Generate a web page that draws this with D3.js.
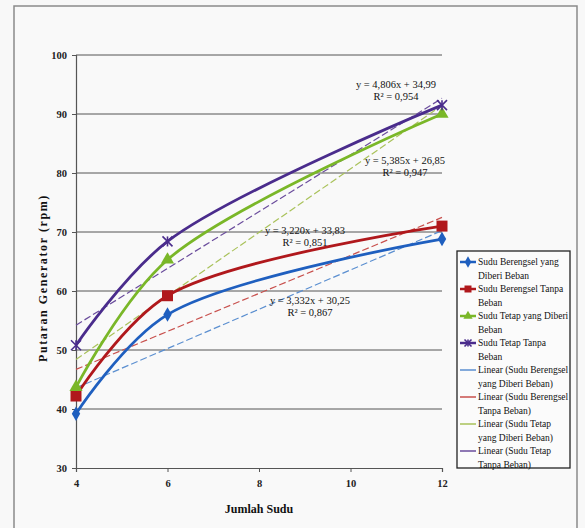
<!DOCTYPE html>
<html><head><meta charset="utf-8">
<script src="https://cdn.jsdelivr.net/npm/d3@7"></script>
<style>
html,body{margin:0;padding:0;background:#f8f8f8;}
svg text{font-family:"Liberation Serif","Times New Roman",serif;}
</style></head>
<body>
<svg id="c" width="585" height="528"></svg>
<script>
// ---- data ----
const xValues = [4, 6, 12];
const xTicks = [4, 6, 8, 10, 12];
const yTicks = [30, 40, 50, 60, 70, 80, 90, 100];
const seriesNames = ["Sudu Berengsel yang Diberi Beban", "Sudu Berengsel Tanpa Beban", "Sudu Tetap yang Diberi Beban", "Sudu Tetap Tanpa Beban"];
const berengselBeban = [39.2, 56.0, 68.8];
const berengselTanpa = [42.2, 59.2, 71.0];
const tetapBeban = [43.7, 65.3, 90.0];
const tetapTanpa = [50.8, 68.4, 91.5];
const trendSlopes = [3.332, 3.220, 5.385, 4.806];
const trendIntercepts = [30.25, 33.83, 26.85, 34.99];
const eqLabels = ["y = 3,332x + 30,25", "y = 3,220x + 33,83", "y = 5,385x + 26,85", "y = 4,806x + 34,99"];
const r2Labels = ["R² = 0,867", "R² = 0,851", "R² = 0,947", "R² = 0,954"];
const legendLines = [
  ["Sudu Berengsel yang", "Diberi Beban"],
  ["Sudu Berengsel Tanpa", "Beban"],
  ["Sudu Tetap yang Diberi", "Beban"],
  ["Sudu Tetap Tanpa", "Beban"],
  ["Linear (Sudu Berengsel", "yang Diberi Beban)"],
  ["Linear (Sudu Berengsel", "Tanpa Beban)"],
  ["Linear (Sudu Tetap", "yang Diberi Beban)"],
  ["Linear (Sudu Tetap", "Tanpa Beban)"]
];

// ---- styles ----
const colors = ["#1f5fbf", "#b0181c", "#7ab728", "#4a2c8c"];
const trendColors = ["#5b8fd0", "#c8504d", "#a9c25a", "#6a4c9c"];
const markers = [d3.symbolDiamond, d3.symbolSquare, d3.symbolTriangle, "star"];
const markerSizes = [9, 11, 10, 10];
const eqPos = [[310, 300], [305, 230], [405, 160], [396, 84]];

const svg = d3.select("#c");
svg.append("rect").attr("x", 14).attr("y", 6).attr("width", 563).attr("height", 530)
  .attr("fill", "#f9f9f9").attr("stroke", "#8a8a8a").attr("stroke-width", 1.5);

const x = d3.scaleLinear().domain([4, 12]).range([76, 442]);
const y = d3.scaleLinear().domain([30, 100]).range([468, 55]);

// gridlines
svg.append("g").selectAll("line").data(yTicks.filter(v => v > 30)).join("line")
  .attr("x1", x(4)).attr("x2", x(12)).attr("y1", d => y(d)).attr("y2", d => y(d))
  .attr("stroke", "#555").attr("stroke-width", 1);

// axes
const yAxis = svg.append("g").attr("transform", `translate(${x(4)},0)`)
  .call(d3.axisLeft(y).tickValues(yTicks).tickSize(4).tickPadding(5).tickFormat(d3.format("d")));
const xAxis = svg.append("g").attr("transform", `translate(0,${y(30)})`)
  .call(d3.axisBottom(x).tickValues(xTicks).tickSize(4).tickPadding(8).tickFormat(d3.format("d")));
[yAxis, xAxis].forEach(a => {
  a.select(".domain").attr("stroke", "#555").attr("stroke-width", 1.2);
  a.selectAll(".tick line").attr("stroke", "#555");
  a.selectAll("text").attr("font-size", 10.5).attr("font-weight", "bold").attr("fill", "#222")
    .attr("font-family", "Liberation Serif");
});

// trendlines
trendSlopes.forEach((m, i) => {
  svg.append("line")
    .attr("x1", x(4)).attr("y1", y(m * 4 + trendIntercepts[i]))
    .attr("x2", x(12)).attr("y2", y(m * 12 + trendIntercepts[i]))
    .attr("stroke", trendColors[i]).attr("stroke-width", 1.2).attr("stroke-dasharray", "7,3");
});

// series
const allSeries = [berengselBeban, berengselTanpa, tetapBeban, tetapTanpa];
const line = d3.line().x(d => x(d[0])).y(d => y(d[1])).curve(d3.curveCatmullRom.alpha(0.5));
function drawMarker(g, type, color, cx, cy, s) {
  if (type === "star") {
    const r = s / 2;
    const p = g.append("g").attr("transform", `translate(${cx},${cy})`).attr("stroke", color).attr("stroke-width", 1.6);
    p.append("line").attr("x1", -r).attr("y1", -r).attr("x2", r).attr("y2", r);
    p.append("line").attr("x1", -r).attr("y1", r).attr("x2", r).attr("y2", -r);
    p.append("line").attr("x1", 0).attr("y1", -r).attr("x2", 0).attr("y2", r);
  } else {
    const size = type === d3.symbolSquare ? s * s : s * s * 0.75;
    g.append("path").attr("d", d3.symbol().type(type).size(size)())
      .attr("transform", `translate(${cx},${cy})`).attr("fill", color);
  }
}
allSeries.forEach((vals, i) => {
  const pts = xValues.map((xv, k) => [xv, vals[k]]);
  svg.append("path").attr("d", line(pts)).attr("fill", "none")
    .attr("stroke", colors[i]).attr("stroke-width", 2.8);
  const g = svg.append("g");
  pts.forEach(p => drawMarker(g, markers[i], colors[i], x(p[0]), y(p[1]), markerSizes[i]));
});

// equation labels
eqLabels.forEach((t, i) => {
  const g = svg.append("g").attr("font-size", 10.5).attr("fill", "#111").attr("text-anchor", "middle");
  g.append("text").attr("x", eqPos[i][0]).attr("y", eqPos[i][1] + 4).text(t);
  g.append("text").attr("x", eqPos[i][0]).attr("y", eqPos[i][1] + 16).text(r2Labels[i]);
});

// axis titles
svg.append("text").attr("x", (x(4) + x(12)) / 2).attr("y", 513).attr("text-anchor", "middle")
  .attr("font-size", 12).attr("font-weight", "bold").attr("fill", "#111").text("Jumlah Sudu");
svg.append("text").attr("transform", "translate(47,278) rotate(-90)").attr("text-anchor", "middle")
  .attr("font-size", 12).attr("font-weight", "bold").attr("letter-spacing", 1.6).attr("fill", "#111")
  .text("Putaran Generator (rpm)");

// legend
const lx = 457, ly = 251, lw = 113, lh = 217, ls = 13.5;
svg.append("rect").attr("x", lx).attr("y", ly).attr("width", lw).attr("height", lh)
  .attr("fill", "#fbfbfb").attr("stroke", "#222").attr("stroke-width", 1.3);
legendLines.forEach((ln, i) => {
  const base = ly + 4 + ls * 2 * i;
  const my = base + 7;
  const isSeries = i < 4;
  const c = isSeries ? colors[i] : trendColors[i - 4];
  svg.append("line").attr("x1", lx + 3).attr("x2", lx + 19).attr("y1", my).attr("y2", my)
    .attr("stroke", c).attr("stroke-width", isSeries ? 2.5 : 1.5);
  if (isSeries) drawMarker(svg, markers[i], c, lx + 11, my, 7);
  ln.forEach((t, k) => {
    svg.append("text").attr("x", lx + 21).attr("y", base + 10 + k * ls)
      .attr("font-size", 9.5).attr("fill", "#111").text(t);
  });
});
</script>
</body></html>
